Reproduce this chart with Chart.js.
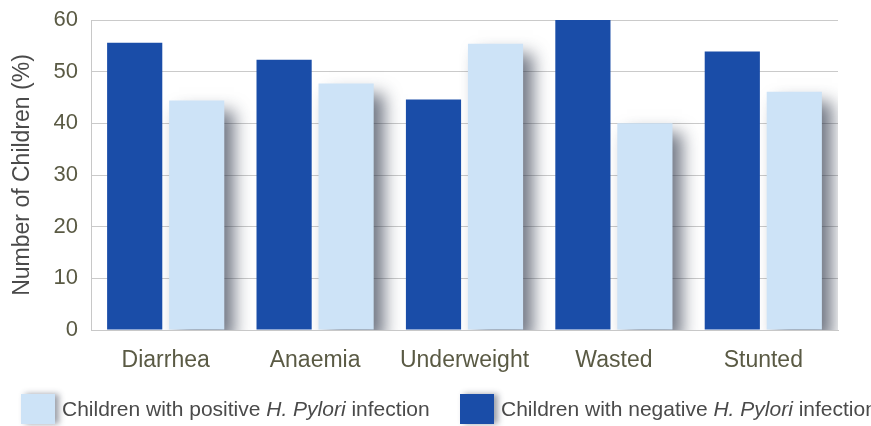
<!DOCTYPE html>
<html>
<head>
<meta charset="utf-8">
<script src="https://cdn.jsdelivr.net/npm/chart.js@4"></script>
<style>
  html, body { margin: 0; padding: 0; background: #ffffff; }
  #wrap { width: 871px; height: 426px; position: relative; }
</style>
</head>
<body>
<div id="wrap"><canvas id="chart" width="871" height="426"></canvas></div>
<script>
// Outcome categories
const categories = ["Diarrhea", "Anaemia", "Underweight", "Wasted", "Stunted"];
// Share of children (%) in each outcome group
const negativeValues = [55.6, 52.3, 44.6, 60.0, 53.9];
const positiveValues = [44.4, 47.7, 55.4, 40.0, 46.1];
// Y axis tick values
const yTicks = [0, 10, 20, 30, 40, 50, 60];
// Legend entries: [before italic part, italic part, after italic part]
const positiveLabel = ["Children with positive ", "H. Pylori", " infection"];
const negativeLabel = ["Children with negative ", "H. Pylori", " infection"];

const DARK = "#1a4da8";
const LIGHT = "#cde3f7";
const TICK_COLOR = "#5a5a44";
const TEXT_COLOR = "#4a4a4a";
const FONT = "'Liberation Sans', Arial, sans-serif";

// Soft drop shadow behind the light bars
const barShadow = {
  id: "barShadow",
  beforeDatasetDraw(chart, args) {
    const ctx = chart.ctx;
    ctx.save();
    if (args.index === 1) {
      ctx.shadowColor = "rgba(35,45,65,0.65)";
      ctx.shadowBlur = 16;
      ctx.shadowOffsetX = 10;
      ctx.shadowOffsetY = 10;
    }
  },
  afterDatasetDraw(chart) {
    chart.ctx.restore();
  }
};

// Legend row under the axis, with the organism name in italics
const pyloriLegend = {
  id: "pyloriLegend",
  afterDraw(chart) {
    const ctx = chart.ctx;
    const size = 21;
    const cy = 410;
    const drawEntry = (x, color, parts) => {
      ctx.save();
      ctx.shadowColor = "rgba(35,45,65,0.45)";
      ctx.shadowBlur = 6;
      ctx.shadowOffsetX = 4;
      ctx.fillStyle = color;
      ctx.fillRect(x, 394, 34, 30);
      ctx.restore();
      ctx.save();
      ctx.fillStyle = TEXT_COLOR;
      ctx.textBaseline = "middle";
      let tx = x + 41;
      parts.forEach((p, i) => {
        ctx.font = (i === 1 ? "italic " : "") + size + "px " + FONT;
        ctx.fillText(p, tx, cy);
        tx += ctx.measureText(p).width;
      });
      ctx.restore();
      return tx;
    };
    drawEntry(21, LIGHT, positiveLabel);
    drawEntry(460, DARK, negativeLabel);
  }
};

new Chart(document.getElementById("chart"), {
  type: "bar",
  data: {
    labels: categories,
    datasets: [
      { label: negativeLabel.join(""), data: negativeValues, backgroundColor: DARK,
        categoryPercentage: 0.83, barPercentage: 0.89 },
      { label: positiveLabel.join(""), data: positiveValues, backgroundColor: LIGHT,
        categoryPercentage: 0.83, barPercentage: 0.89 }
    ]
  },
  options: {
    responsive: false,
    animation: false,
    layout: { padding: { left: 0, top: 20, right: 33, bottom: 0 } },
    plugins: {
      legend: { display: false },
      tooltip: { enabled: false }
    },
    scales: {
      x: {
        grid: { display: false, drawTicks: false },
        border: { display: true, color: "#c8c8c8" },
        ticks: { color: TICK_COLOR, font: { family: FONT, size: 23 }, padding: 17 },
        afterFit(scale) {
          scale.height = 96;
          scale.paddingLeft = 0;
          scale.paddingRight = 0;
        }
      },
      y: {
        min: 0,
        max: 60,
        afterBuildTicks(scale) { scale.ticks = yTicks.map(v => ({ value: v })); },
        grid: { color: "#cacaca", lineWidth: 1, drawTicks: false },
        border: { display: true, color: "#c8c8c8" },
        ticks: { color: TICK_COLOR, font: { family: FONT, size: 22 }, padding: 13 },
        title: {
          display: true,
          text: "Number of Children (%)",
          color: TEXT_COLOR,
          font: { family: FONT, size: 23 },
          padding: { top: 9, bottom: 0 }
        },
        afterFit(scale) {
          scale.width = 91;
          scale.paddingTop = 0;
          scale.paddingBottom = 0;
        }
      }
    }
  },
  plugins: [barShadow, pyloriLegend]
});
</script>
</body>
</html>
